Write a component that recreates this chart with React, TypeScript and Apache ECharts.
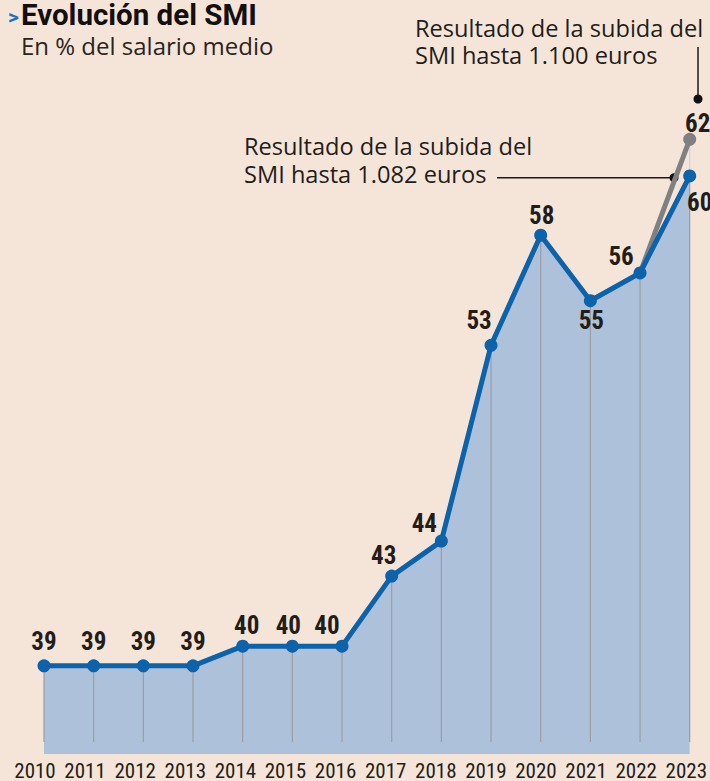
import React, { useEffect, useRef } from "react";
import * as echarts from "echarts";

const years = ["2010", "2011", "2012", "2013", "2014", "2015", "2016", "2017", "2018", "2019", "2020", "2021", "2022", "2023"];
// SMI as % of average salary (blue: actual path)
const smiPct = [39.0, 39.0, 39.0, 39.0, 39.86, 39.86, 39.86, 42.92, 44.45, 53.0, 57.81, 54.95, 56.16, 60.4];
// Scenario with SMI at 1.100 euros (grey)
const smiPct1100: (number | null)[] = [null, null, null, null, null, null, null, null, null, null, null, null, 56.16, 62.0];

const titleText = "Evolución del SMI";
const subtitleText = "En % del salario medio";
const note1100 = ["Resultado de la subida del", "SMI hasta 1.100 euros"];
const note1082 = ["Resultado de la subida del", "SMI hasta 1.082 euros"];

const BG = "#f5e5d9";
const BLUE = "#0c62ab";
const AREA = "#adc2da";
const GREY = "#808080";
const TXT = "#221d1a";
const NARROW = "'Liberation Sans Narrow', 'Roboto Condensed', 'Arial Narrow', Roboto, sans-serif";
const REG = "'Open Sans', Roboto, 'Noto Sans', sans-serif";
const BOLD = "Roboto, 'Noto Sans', sans-serif";
const LINE_BASE = 35.67;

const labelOffsets: [number, number][] = [
  [0, -24], [0, -24], [0, -24], [0, -24],
  [4, -21], [-4, -21], [-15, -21],
  [-8, -21], [-17, -18], [-12, -25], [1, -20], [1, 20], [-19, -16], [10, 27],
];

export default function App() {
  const ref = useRef<HTMLDivElement>(null);
  useEffect(() => {
    if (!ref.current) return;
    const chart = echarts.init(ref.current, undefined, { renderer: "svg" });
    const labelStyle = {
      show: true,
      position: "inside" as const,
      fontFamily: NARROW,
      fontWeight: "bold" as const,
      fontSize: 25,
      color: TXT,
      formatter: (p: any) => String(Math.round(Array.isArray(p.value) ? p.value[1] : p.value)),
    };
    const blueData = smiPct.map((v, i) => ({ value: v, label: { ...labelStyle, offset: labelOffsets[i] } }));
    const greyData = smiPct1100.map((v, i) =>
      v == null
        ? null
        : {
            value: v,
            symbolSize: i === smiPct1100.length - 1 ? 13 : 0,
            label: i === smiPct1100.length - 1 ? { ...labelStyle, offset: [8, -16] } : { show: false },
          }
    );
    const stemData = smiPct.map((v, i) => [i, v]);
    const extData = smiPct1100
      .map((v, i) => (v != null && v > smiPct[i] ? [i, smiPct[i], v] : null))
      .filter((d) => d != null);

    const annotLines = (lines: string[], x: number, ys: number[]) =>
      lines.map((t, k) => ({
        type: "text",
        x,
        y: ys[k],
        style: { text: t, fill: TXT, font: `23.6px ${REG}`, verticalAlign: "middle", align: "left" },
      }));

    chart.setOption({
      animation: false,
      backgroundColor: BG,
      grid: [
        { left: 44, right: 20.3, top: 93.5, bottom: 27 },
        { left: 35, right: 23, top: 93.5, bottom: 27 },
      ],
      xAxis: [
        {
          type: "category",
          gridIndex: 0,
          data: years,
          boundaryGap: false,
          axisLine: { show: false },
          axisTick: { show: false },
          axisLabel: { show: false },
          splitLine: { show: false },
        },
        {
          type: "category",
          gridIndex: 1,
          data: years,
          boundaryGap: false,
          axisLine: { show: false },
          axisTick: { show: false },
          axisLabel: { show: true, fontFamily: NARROW, fontSize: 21, color: TXT, margin: 7, interval: 0 },
          splitLine: { show: false },
        },
      ],
      yAxis: [
        { type: "value", gridIndex: 0, min: 35.15, max: 64, show: false },
        { type: "value", gridIndex: 1, min: 35.15, max: 64, show: false },
      ],
      series: [
        {
          type: "line",
          data: smiPct,
          symbol: "none",
          lineStyle: { width: 0, opacity: 0 },
          areaStyle: { color: AREA, opacity: 1, origin: "start" },
          z: 1,
          silent: true,
        },
        {
          type: "custom",
          data: stemData,
          z: 2,
          renderItem: (_p: any, api: any) => {
            const x = api.value(0);
            const v = api.value(1);
            const a = api.coord([x, LINE_BASE]);
            const b = api.coord([x, v]);
            return {
              type: "line",
              shape: { x1: a[0], y1: a[1], x2: b[0], y2: b[1] },
              style: { stroke: "#9d9ca2", lineWidth: 1.2 },
            };
          },
        },
        {
          type: "custom",
          data: extData,
          z: 2,
          renderItem: (_p: any, api: any) => {
            const x = api.value(0);
            const a = api.coord([x, api.value(1)]);
            const b = api.coord([x, api.value(2)]);
            return {
              type: "line",
              shape: { x1: a[0], y1: a[1], x2: b[0], y2: b[1] },
              style: { stroke: "#c3d3e6", lineWidth: 1.2 },
            };
          },
        },
        {
          type: "line",
          data: greyData,
          symbol: "circle",
          symbolSize: 13,
          itemStyle: { color: GREY },
          lineStyle: { color: GREY, width: 5 },
          z: 3,
        },
        {
          type: "line",
          data: blueData,
          symbol: "circle",
          symbolSize: 13,
          itemStyle: { color: BLUE },
          lineStyle: { color: BLUE, width: 5 },
          z: 4,
        },
      ],
      graphic: [
        {
          type: "text",
          x: 8,
          y: 17,
          style: { text: ">", fill: "#1c6fc1", font: `bold 21px ${BOLD}`, verticalAlign: "middle" },
        },
        {
          type: "text",
          x: 21,
          y: 15,
          style: { text: titleText, fill: "#140f0c", font: `bold 29.5px ${BOLD}`, verticalAlign: "middle" },
        },
        {
          type: "text",
          x: 21,
          y: 45,
          style: { text: subtitleText, fill: "#2a2420", font: `24px ${REG}`, verticalAlign: "middle" },
        },
        ...annotLines(note1100, 415, [27.5, 54.5]),
        ...annotLines(note1082, 244, [145.5, 173.5]),
        { type: "line", shape: { x1: 698, y1: 47, x2: 698, y2: 99 }, style: { stroke: "#1a1a1a", lineWidth: 1.5 } },
        { type: "circle", shape: { cx: 698, cy: 99, r: 4.5 }, style: { fill: "#111" } },
        { type: "line", shape: { x1: 497, y1: 177.7, x2: 674, y2: 177.7 }, style: { stroke: "#1a1a1a", lineWidth: 1.5 } },
        { type: "circle", shape: { cx: 674, cy: 177.7, r: 4.5 }, style: { fill: "#111" } },
      ],
    });
    return () => chart.dispose();
  }, []);
  return (
    <div
      ref={ref}
      style={{ position: "fixed", left: 0, top: 0, width: 710, height: 781, background: BG }}
    />
  );
}
